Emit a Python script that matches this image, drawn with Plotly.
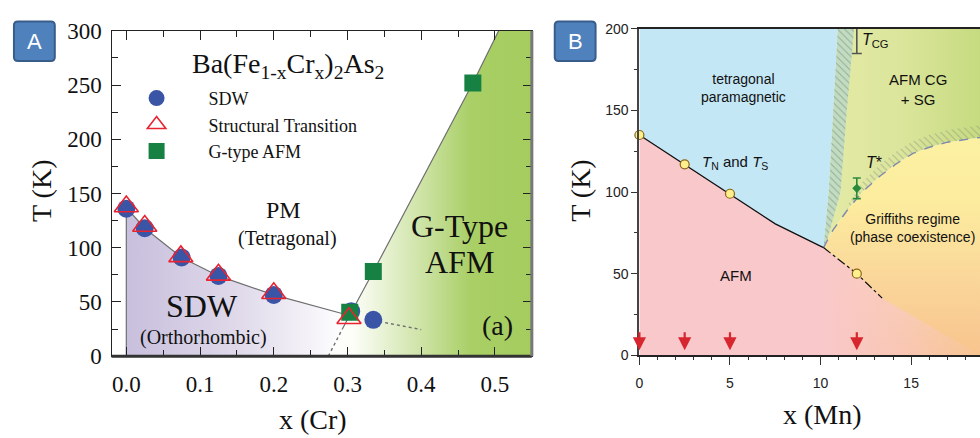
import plotly.graph_objects as go

W, H = 980, 438

# ---------------- Panel A: Ba(Fe1-xCrx)2As2 ----------------
sdw_x = [0.0, 0.025, 0.075, 0.125, 0.2, 0.305, 0.335]
sdw_T = [136, 118, 91, 74, 56.5, 41.5, 33.5]
st_x = [0.0, 0.025, 0.074, 0.125, 0.2, 0.302]
st_T = [138, 120, 92, 75, 58, 35]
gafm_x = [0.303, 0.335, 0.47]
gafm_T = [40.5, 78, 252]

# phase boundaries
sdw_line_x = [0.0, 0.025, 0.075, 0.125, 0.2, 0.3]
sdw_line_T = [137, 118, 91, 74, 56.5, 38]
sdw_tail_x = [0.335, 0.4]
sdw_tail_T = [33, 24.5]
g_tail_x = [0.274, 0.293]
g_tail_T = [0, 25]
g_line_x = [0.293, 0.335, 0.47, 0.505]
g_line_T = [25, 78, 252, 300]
xA_max, TA_max = 0.55, 300

# ---------------- Panel B: Ba(Fe1-xMnx)2As2 ----------------
mn_x = [0, 2.5, 5, 12]
mn_TN = [135, 117, 99, 50]
tn_x = [0, 2.5, 5, 7.5, 10.16]
tn_T = [135, 117, 99, 80.5, 66]
tn_ext_x = [10.16, 12, 13.4]
tn_ext_T = [66, 50, 35]
edge_x = [10.16, 10.45, 10.7, 10.95]
edge_T = [66, 100, 150, 200]
edge_band_x = [10.25, 11.1, 11.45, 11.85]
dome_x = [10.16, 10.7, 11.48, 12.3, 13.3, 14.2, 15.1, 16.0, 17.0, 18.8]
dome_T = [66, 77, 89, 100, 110, 117.5, 123.7, 127.5, 130.6, 133.5]
tstar_x, tstar_T, tstar_err = 12, 102.3, 6.3
tcg_x, tcg_T, tcg_err = 12, 204, 19
arrow_x = [0, 2.5, 5, 12]
xB_max, TB_max = 18.8, 200

SERIF = "Liberation Serif"
SANS = "Liberation Sans"

fig = go.Figure()

def region(x, y, xa, ya, **kw):
    fig.add_trace(go.Scatter(x=x, y=y, xaxis=xa, yaxis=ya, mode="lines", fill="toself",
                             line=dict(width=0), hoverinfo="skip", showlegend=False, **kw))

# --- Panel A regions ---
purple_x = [0.0] + sdw_line_x + g_tail_x[::-1]
purple_T = [0] + sdw_line_T + g_tail_T[::-1]
region(purple_x, purple_T, "x", "y",
       fillgradient=dict(type="horizontal", colorscale=[[0, "#c8bfdd"], [0.5, "#dfd9ea"], [1, "#ffffff"]]))

green_x = g_tail_x + g_line_x[1:] + [xA_max, xA_max]
green_T = g_tail_T + g_line_T[1:] + [TA_max, 0]
region(green_x, green_T, "x", "y",
       fillgradient=dict(type="horizontal",
                         colorscale=[[0, "#ffffff"], [0.13, "#fbfdf6"], [0.45, "#cfe4a8"],
                                     [0.7, "#a9cf66"], [1, "#a4cc5e"]]))

# --- Panel A boundary lines ---
fig.add_trace(go.Scatter(x=[0.0] + sdw_line_x, y=[0] + sdw_line_T, xaxis="x", yaxis="y", mode="lines",
                         line=dict(color="#6f6f6f", width=1.2), hoverinfo="skip", showlegend=False))
fig.add_trace(go.Scatter(x=sdw_tail_x, y=sdw_tail_T, xaxis="x", yaxis="y", mode="lines",
                         line=dict(color="#6f6f6f", width=1.4, dash="dot"), hoverinfo="skip", showlegend=False))
fig.add_trace(go.Scatter(x=g_tail_x, y=g_tail_T, xaxis="x", yaxis="y", mode="lines",
                         line=dict(color="#6f6f6f", width=1.4, dash="dot"), hoverinfo="skip", showlegend=False))
fig.add_trace(go.Scatter(x=g_line_x, y=g_line_T, xaxis="x", yaxis="y", mode="lines",
                         line=dict(color="#6f6f6f", width=1.2), hoverinfo="skip", showlegend=False))

# --- Panel A markers ---
fig.add_trace(go.Scatter(x=sdw_x, y=sdw_T, xaxis="x", yaxis="y", mode="markers", name="SDW",
                         legendrank=1,
                         marker=dict(symbol="circle", size=18, color="#3a54a6", line=dict(width=0))))
fig.add_trace(go.Scatter(x=gafm_x, y=gafm_T, xaxis="x", yaxis="y", mode="markers", name="G-type AFM",
                         legendrank=3,
                         marker=dict(symbol="square", size=17, color="#168142", line=dict(width=0))))
fig.add_trace(go.Scatter(x=st_x, y=st_T, xaxis="x", yaxis="y", mode="markers", name="Structural Transition",
                         legendrank=2,
                         marker=dict(symbol="triangle-up-open", size=21, color="#ea2330", line=dict(width=1.6))))

# --- Panel B regions ---
region(dome_x + [xB_max, dome_x[0]], dome_T + [0, 0], "x2", "y2",
       fillgradient=dict(type="vertical",
                         colorscale=[[0, "#f8c48e"], [0.35, "#fad69a"], [0.7, "#fcec9e"], [1, "#fcf1a2"]]))

pink_x = [0] + tn_x + tn_ext_x[1:] + [xB_max]
pink_T = [0] + tn_T + tn_ext_T[1:] + [0]
region(pink_x, pink_T, "x2", "y2",
       fillgradient=dict(type="horizontal",
                         colorscale=[[0, "rgba(249,200,202,1)"], [0.54, "rgba(249,200,202,1)"],
                                     [0.78, "rgba(249,200,202,0.6)"], [1, "rgba(249,200,202,0.05)"]]))

green_bx = edge_x + [xB_max, xB_max] + dome_x[::-1]
green_bT = edge_T + [TB_max, dome_T[-1]] + dome_T[::-1]
region(green_bx, green_bT, "x2", "y2",
       fillgradient=dict(type="horizontal",
                         colorscale=[[0, "#e4eaa6"], [0.5, "#dbe59b"], [1, "#c6db80"]]))

blue_x = tn_x + edge_x[1:] + [0]
blue_T = tn_T + edge_T[1:] + [TB_max]
region(blue_x, blue_T, "x2", "y2", fillcolor="#c4e7f6")

# hatched crossover band next to the paramagnetic region
band_x = edge_x + edge_band_x[::-1]
band_T = edge_T + edge_T[::-1]
region(band_x, band_T, "x2", "y2", fillcolor="#c2dcc0",
       fillpattern=dict(shape="\\", fgcolor="#6a7a78", bgcolor="#c2dcc0", size=5, solidity=0.2))

# hatched rim above the Griffiths dome
rim_w = [3, 6, 7, 7.5, 7.5, 7.5, 7.5, 7.5]
rim_lo_x = dome_x[2:]
rim_lo_T = dome_T[2:]
rim_hi_T = [t + w for t, w in zip(rim_lo_T, rim_w)]
region(rim_lo_x + rim_lo_x[::-1], rim_lo_T + rim_hi_T[::-1], "x2", "y2", fillcolor="rgba(0,0,0,0)",
       fillpattern=dict(shape="\\", fgcolor="#7d8580", bgcolor="rgba(0,0,0,0)", size=5, solidity=0.18))

# --- Panel B lines ---
fig.add_trace(go.Scatter(x=dome_x, y=dome_T, xaxis="x2", yaxis="y2", mode="lines",
                         line=dict(color="#8088ae", width=1.4, dash="dash"), hoverinfo="skip", showlegend=False))
fig.add_trace(go.Scatter(x=tn_x, y=tn_T, xaxis="x2", yaxis="y2", mode="lines",
                         line=dict(color="#111111", width=1.3), hoverinfo="skip", showlegend=False))
fig.add_trace(go.Scatter(x=tn_ext_x, y=tn_ext_T, xaxis="x2", yaxis="y2", mode="lines",
                         line=dict(color="#111111", width=1.2, dash="dashdot"), hoverinfo="skip", showlegend=False))

# --- Panel B markers ---
fig.add_trace(go.Scatter(x=mn_x, y=mn_TN, xaxis="x2", yaxis="y2", mode="markers", showlegend=False,
                         cliponaxis=False,
                         marker=dict(symbol="circle", size=9, color="#fdf08c", line=dict(color="#8a6418", width=1.2))))
fig.add_trace(go.Scatter(x=[tstar_x], y=[tstar_T], xaxis="x2", yaxis="y2", mode="markers", showlegend=False,
                         error_y=dict(type="data", array=[tstar_err], color="#2a8a3c", thickness=1.6, width=4),
                         marker=dict(symbol="diamond", size=7, color="#2a8a3c")))
fig.add_trace(go.Scatter(x=[tcg_x], y=[tcg_T], xaxis="x2", yaxis="y2", mode="markers", showlegend=False,
                         cliponaxis=False,
                         error_y=dict(type="data", symmetric=False, array=[0], arrayminus=[tcg_err],
                                      color="#555555", thickness=1.6, width=5),
                         marker=dict(symbol="diamond-open", size=10, color="#333333", line=dict(width=1.2))))

annotations = []

def note(text, x, y, xref, yref, size, family=SERIF, color="#111111", **kw):
    annotations.append(dict(text=text, x=x, y=y, xref=xref, yref=yref, showarrow=False,
                            xanchor="center", yanchor="middle",
                            font=dict(family=family, size=size, color=color), **kw))

# Panel A labels
note("Ba(Fe<sub>1-x</sub>Cr<sub>x</sub>)<sub>2</sub>As<sub>2</sub>", 0.219, 268, "x", "y", 28)
note("PM", 0.2135, 135, "x", "y", 24)
note("(Tetragonal)", 0.219, 108.5, "x", "y", 20)
note("SDW", 0.103, 46, "x", "y", 32)
note("(Orthorhombic)", 0.105, 17.5, "x", "y", 20)
note("G-Type", 0.452, 120, "x", "y", 32)
note("AFM", 0.452, 87, "x", "y", 32)
note("(a)", 0.503, 28, "x", "y", 28)
note("T (K)", 37 / W, 1 - 190 / H, "paper", "paper", 28, textangle=-90)
note("x (Cr)", 310 / W, 1 - 432 / H, "paper", "paper", 28)

# Panel B labels
note("tetragonal<br>paramagnetic", 5.77, 164, "x2", "y2", 14, family=SANS)
note("<i>T</i><sub>N</sub> and <i>T</i><sub>S</sub>", 5.27, 118, "x2", "y2", 15, family=SANS)
note("AFM", 5.33, 48.6, "x2", "y2", 15, family=SANS)
note("AFM CG<br>+ SG", 15.4, 163, "x2", "y2", 15, family=SANS)
note("<i>T</i>*", 12.97, 118, "x2", "y2", 16, family=SANS)
note("<i>T</i><sub>CG</sub>", 13.05, 193, "x2", "y2", 16, family=SANS)
note("Griffiths regime<br>(phase coexistence)", 15.1, 78, "x2", "y2", 14, family=SANS)
note("T (K)", 579 / W, 1 - 190 / H, "paper", "paper", 28, textangle=-90)
note("x (Mn)", 822 / W, 1 - 427 / H, "paper", "paper", 28)

# Red arrows marking the measured compositions
for xa in arrow_x:
    annotations.append(dict(x=xa, y=3, ax=xa, ay=15, xref="x2", yref="y2", axref="x2", ayref="y2",
                            text="", font=dict(size=1), showarrow=True, arrowhead=2, arrowsize=1.2,
                            arrowwidth=2.2, arrowcolor="#d8262e", standoff=0, startstandoff=0))

# Panel badges
def badge_path(x0, y0, x1, y1, r):
    X = lambda px: px / W
    Y = lambda py: 1 - py / H
    return (f"M{X(x0 + r)},{Y(y0)} L{X(x1 - r)},{Y(y0)} Q{X(x1)},{Y(y0)} {X(x1)},{Y(y0 + r)} "
            f"L{X(x1)},{Y(y1 - r)} Q{X(x1)},{Y(y1)} {X(x1 - r)},{Y(y1)} L{X(x0 + r)},{Y(y1)} "
            f"Q{X(x0)},{Y(y1)} {X(x0)},{Y(y1 - r)} L{X(x0)},{Y(y0 + r)} Q{X(x0)},{Y(y0)} {X(x0 + r)},{Y(y0)} Z")

shapes = []
for label, (bx0, bx1) in [("A", (10, 51)), ("B", (553, 594))]:
    shapes.append(dict(type="path", path=badge_path(bx0, 10, bx1, 52, 4), xref="paper", yref="paper",
                       fillcolor="#4f81bd", line=dict(color="#385d8a", width=2)))
    note(label, (bx0 + bx1) / 2 / W, 1 - 31 / H, "paper", "paper", 22, family=SANS, color="#ffffff")

# heavier bottom and right frame of panel A
shapes.append(dict(type="line", xref="x domain", yref="y domain", x0=0, x1=1, y0=0, y1=0,
                   line=dict(color="#333333", width=3)))
shapes.append(dict(type="line", xref="x domain", yref="y domain", x0=1, x1=1, y0=0, y1=1,
                   line=dict(color="#777777", width=3)))

axA = dict(showline=True, linecolor="#222222", linewidth=1.2, mirror="ticks", ticks="inside",
           tickcolor="#222222", tickwidth=1.2, showgrid=False, zeroline=False,
           tickfont=dict(family=SERIF, size=23, color="#111111"))
axB = dict(showline=True, showgrid=False, zeroline=False, ticks="outside", tickcolor="#333333",
           tickwidth=1.2, tickfont=dict(family=SANS, size=14, color="#222222"))

fig.update_layout(
    width=W, height=H, margin=dict(l=0, r=0, t=0, b=0),
    paper_bgcolor="white", plot_bgcolor="white",
    xaxis=dict(axA, domain=[108 / W, 530 / W], range=[-0.02, xA_max], anchor="y",
               dtick=0.1, tick0=0, tickformat=".1f", ticklen=9, ticklabelstandoff=7,
               minor=dict(dtick=0.05, tick0=0, ticklen=6, ticks="inside", tickcolor="#222222")),
    yaxis=dict(axA, domain=[1 - 365 / H, 1 - 20 / H], range=[0, TA_max], anchor="x",
               dtick=50, ticklen=9, ticklabelstandoff=4,
               minor=dict(dtick=25, ticklen=6, ticks="inside", tickcolor="#222222")),
    xaxis2=dict(axB, domain=[638 / W, 1.0], range=[0, xB_max], anchor="y2", dtick=5, ticklen=8,
                linecolor="#222222", linewidth=1.5, mirror=True, ticklabelstandoff=6,
                minor=dict(dtick=1, ticklen=3, ticks="outside", tickcolor="#333333")),
    yaxis2=dict(axB, domain=[1 - 364 / H, 1 - 18 / H], range=[0, TB_max], anchor="x2", dtick=50,
                ticklen=6, linecolor="#444444", linewidth=2,
                minor=dict(dtick=25, ticklen=3, ticks="outside", tickcolor="#333333")),
    legend=dict(x=101 / W, y=1 - 72 / H, xanchor="left", yanchor="top", bgcolor="rgba(0,0,0,0)",
                font=dict(family=SERIF, size=18, color="#111111"), itemwidth=94,
                traceorder="normal"),
    annotations=annotations, shapes=shapes,
)

fig.write_html("out.html")
